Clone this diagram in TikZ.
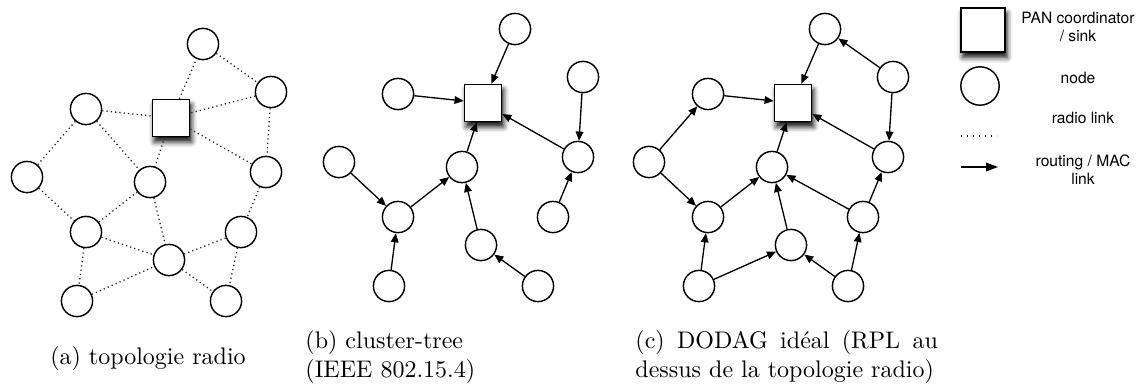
\documentclass[tikz,border=0pt]{standalone}
\usepackage{fontspec}
\newfontfamily\legendfont{TeX Gyre Heros}
\usepackage{tikz}
\usetikzlibrary{positioning,arrows.meta,shadows.blur}
\tikzset{
  nd/.style={circle,draw=black,fill=white,line width=0.6pt,minimum size=13pt,inner sep=0pt},
  sink/.style={rectangle,draw=black,fill=white,line width=0.6pt,minimum size=15.5pt,inner sep=0pt,
    blur shadow={shadow xshift=0.8pt,shadow yshift=-2.2pt,shadow blur radius=2.2pt,shadow opacity=95}},
  radio/.style={draw=black!85,line width=0.55pt,dash pattern=on 0.5pt off 1.3pt},
  route/.style={draw=black,line width=0.55pt,-{Triangle[length=3.8pt,width=3.2pt]}},
  caption/.style={font=\normalsize,inner sep=0pt},
  legtext/.style={font=\legendfont\fontsize{6.5pt}{7.5pt}\selectfont,align=center,inner sep=0pt},
}
% same node layout in the three panels
\newcommand\netnodes[1]{%
  \node[sink] (#1s) at (483,103) {};
  \foreach \i/\x/\y in {1/515/29,2/583/77,3/398/94,4/339/162,5/462/167,6/578/157,
                        7/398/217,8/481/245,9/553/217,10/389/286,11/538/286}
    \node[nd] (#1\i) at (\x,\y) {};
}

\begin{document}
\begin{tikzpicture}[x=0.41667pt,y=-0.41667pt]
\useasboundingbox (0,0) rectangle (1139,385);

% (a) radio topology
\begin{scope}[shift={(-312,15)}]
\netnodes{a}
\draw[radio] (as) -- (a1);
\draw[radio] (a1) -- (a2);
\draw[radio] (a2) -- (as);
\draw[radio] (a2) -- (a6);
\draw[radio] (a3) -- (as);
\draw[radio] (a3) -- (a4);
\draw[radio] (a3) -- (a5);
\draw[radio] (as) -- (a5);
\draw[radio] (as) -- (a6);
\draw[radio] (a4) -- (a7);
\draw[radio] (a7) -- (a5);
\draw[radio] (a5) -- (a8);
\draw[radio] (a7) -- (a8);
\draw[radio] (a7) -- (a10);
\draw[radio] (a10) -- (a8);
\draw[radio] (a8) -- (a11);
\draw[radio] (a8) -- (a9);
\draw[radio] (a6) -- (a9);
\draw[radio] (a9) -- (a11);
\end{scope}

% (b) cluster-tree
\begin{scope}
\netnodes{b}
\draw[route] (b1) -- (bs);
\draw[route] (b3) -- (bs);
\draw[route] (b5) -- (bs);
\draw[route] (b6) -- (bs);
\draw[route] (b2) -- (b6);
\draw[route] (b9) -- (b6);
\draw[route] (b4) -- (b7);
\draw[route] (b7) -- (b5);
\draw[route] (b10) -- (b7);
\draw[route] (b8) -- (b5);
\draw[route] (b11) -- (b8);
\end{scope}

% (c) DODAG
\begin{scope}[shift={(310,0)}]
\netnodes{c}
\draw[route] (c1) -- (cs);
\draw[route] (c2) -- (c1);
\draw[route] (c2) -- (c6);
\draw[route] (c3) -- (cs);
\draw[route] (c4) -- (c3);
\draw[route] (c4) -- (c7);
\draw[route] (c5) -- (cs);
\draw[route] (c6) -- (cs);
\draw[route] (c7) -- (c5);
\draw[route] (c8) -- (c5);
\draw[route] (c9) -- (c5);
\draw[route] (c9) -- (c6);
\draw[route] (c10) -- (c7);
\draw[route] (c10) -- (c8);
\draw[route] (c11) -- (c8);
\draw[route] (c11) -- (c9);
\end{scope}

% captions
\node[caption] (capa) at (148,358) {(a) topologie radio};
\node[caption,anchor=west,align=left] (capb) at (305,357) {(b) cluster-tree\\(IEEE 802.15.4)};
\node[caption,anchor=west,text width=126pt,align=justify] (capc) at (635,357)
  {(c) DODAG idéal (RPL au dessus de la topologie radio)};

% legend
\node[sink,minimum size=18.5pt] (lsink) at (983,30) {};
\node[nd,minimum size=16pt] (lnode) at (980,86) {};
\node[legtext] (tsink) at (1078,27) {PAN coordinator\\/ sink};
\node[legtext] (tnode) at (1078,78) {node};
\node[legtext] (tradio) at (1083,118) {radio link};
\node[legtext] (troute) at (1083,170) {routing / MAC\\link};
\coordinate (r1) at (961,136);
\coordinate (r2) at (997,136);
\draw[radio,dash pattern=on 0.6pt off 1.9pt] (r1) -- (r2);
\coordinate (m1) at (961,167);
\coordinate (m2) at (998,167);
\draw[route,-{Triangle[length=5pt,width=3.6pt]}] (m1) -- (m2);
\end{tikzpicture}
\end{document}
